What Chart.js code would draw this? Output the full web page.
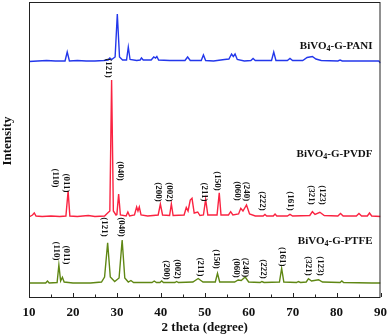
<!DOCTYPE html>
<html>
<head>
<meta charset="utf-8">
<script src="https://cdn.jsdelivr.net/npm/chart.js@4.4.0/dist/chart.umd.min.js"></script>
<style>
  html, body { margin: 0; padding: 0; background: #fff; }
  #wrap { width: 387px; height: 335px; }
</style>
</head>
<body>
<div id="wrap"><canvas id="xrdChart"></canvas></div>
<script>
// 2 theta (degree) / intensity (a.u., traces already offset)
const panTheta = [10, 12, 14, 16, 18.2, 18.7, 19.2, 21, 23, 25, 27, 28.0, 28.4, 28.8, 29.6, 30.1, 30.6, 31.3, 32.2, 32.6, 33.0, 34.5, 35.3, 35.6, 36.0, 37.8, 38.4, 38.8, 39.1, 39.5, 42, 45.5, 46.1, 46.7, 49.2, 49.7, 50.2, 52, 54.5, 55.5, 56.1, 56.5, 56.9, 57.4, 59, 60.5, 61.0, 61.5, 65.2, 65.7, 66.2, 68.8, 69.4, 70.0, 72.3, 73.3, 74.5, 75.3, 76.5, 80.3, 80.8, 81.3, 85, 89.6, 90];
const panInt = [235.5, 236, 236.5, 236, 236, 245, 236, 236.5, 236, 236, 236.5, 237, 239, 237.5, 240, 283, 240, 237, 237, 250, 237.5, 236.5, 237, 239, 237, 237, 240, 239, 240.5, 237, 236.5, 236.5, 240, 236.5, 236.5, 242, 236.5, 236, 237.5, 238, 243, 240.5, 243, 237.5, 236, 236.5, 238.5, 236.5, 236.5, 245, 236.5, 236.5, 238.5, 236.5, 236.5, 239.5, 240.5, 238, 236.5, 236, 237, 236, 236, 236, 234];

const pvdfTheta = [10, 10.8, 11.2, 11.6, 13, 15, 17, 18.4, 18.9, 19.3, 21, 23.5, 25, 27.2, 27.9, 28.4, 28.8, 29.2, 29.8, 30.0, 30.4, 30.8, 32.1, 32.5, 32.9, 34.0, 34.5, 34.8, 35.1, 35.5, 37, 39.4, 39.9, 40.4, 42.0, 42.4, 42.8, 45.3, 45.8, 46.2, 46.7, 47.1, 47.6, 48.4, 48.9, 49.7, 50.2, 50.7, 52.8, 53.3, 53.7, 55.4, 55.9, 56.4, 57.7, 58.2, 58.7, 59.5, 60.2, 61.5, 63.3, 63.7, 64.1, 65.6, 66.0, 66.4, 68.8, 69.4, 70.0, 73.9, 74.5, 75.1, 76.2, 77.2, 80.3, 80.9, 81.5, 84.5, 85.1, 85.7, 87.0, 87.5, 88, 90];
const pvdfInt = [80, 82, 84, 81, 80.5, 81, 80.5, 81, 106, 81, 80.5, 81.5, 80.5, 81, 84, 86, 217, 86, 82, 82.5, 103, 82, 81, 85, 81, 82, 90, 86, 90, 82, 81, 82, 93, 82, 81.5, 93, 81.5, 82, 89.5, 86, 97, 98.7, 84, 85, 81.5, 82, 97.7, 82, 82, 104.3, 82, 82, 85.3, 82, 83, 88.7, 86, 92, 83, 81, 81, 82.5, 81, 81, 83, 81, 81, 82.7, 81, 81.5, 85.3, 82.5, 84.7, 81.5, 81, 83.5, 81, 81, 83.5, 81, 81, 84, 81, 80.5];

const ptfeTheta = [10, 12, 13.8, 14.2, 14.6, 16.4, 16.8, 17.2, 17.6, 18.0, 20, 24, 26.5, 27.2, 27.9, 28.5, 29.5, 30.5, 31.2, 31.8, 32.6, 33.2, 33.8, 38, 38.5, 39, 39.8, 40.2, 40.6, 43.2, 43.6, 44, 47.3, 48.5, 49.6, 52.4, 52.9, 53.4, 56.8, 57.6, 58.3, 59.2, 60, 62.6, 63.0, 63.5, 67.0, 67.5, 68.0, 70.9, 71.3, 71.8, 73.1, 73.6, 74.3, 75.9, 76.8, 80.8, 81.2, 81.6, 88, 90];
const ptfeInt = [14, 14, 14, 16, 14, 14.5, 32, 16, 19.7, 15, 14, 14, 15, 20, 54.3, 20, 15.5, 19, 57, 19, 15, 16.5, 14.5, 14.5, 16, 14.5, 14.5, 16, 14.5, 14.5, 15.5, 14.5, 15, 18.5, 15, 15, 23.7, 15, 15, 17, 16.5, 20, 15, 14.5, 15.5, 14.5, 15, 28.7, 15, 14.5, 15.5, 14.5, 15, 18.3, 16, 17.3, 15, 14.5, 16, 14.5, 14, 14];

// hkl labels: name, 2 theta, height of label centre
const hklNames = ['(110)', '(011)', '(121)', '(040)', '(200)', '(002)', '(211)', '(150)', '(060)', '(240)', '(222)', '(161)', '(321)', '(123)'];
const pvdfHklTheta = [15.9, 18.4, 28.0, 30.7, 39.4, 42.0, 50.0, 52.9, 57.4, 59.4, 63.0, 69.4, 74.2, 76.8];
const pvdfHklY = [119, 114, 229, 126, 105, 105, 105, 116, 106, 105.5, 96, 96, 102, 102];
const ptfeHklTheta = [16.2, 18.5, 27.1, 31.0, 41.3, 43.8, 49.1, 52.7, 57.2, 59.3, 63.3, 67.6, 73.6, 76.2];
const ptfeHklY = [46, 42, 70, 70, 27, 28, 30, 38, 29, 29.5, 28, 40.3, 31, 31];

const sampleNames = ['G-PANI', 'G-PVDF', 'G-PTFE'];
const sampleLabelY = [252, 144, 57];

const zip = (xs, ys) => xs.map((x, i) => ({ x: x, y: ys[i] }));

const serif = '"Liberation Serif", "Times New Roman", serif';

const decor = {
  id: 'decor',
  afterDraw(chart) {
    const c = chart.ctx;
    const a = chart.chartArea;
    const xs = chart.scales.x;
    const ys = chart.scales.y;
    c.save();
    // frame
    c.strokeStyle = '#222';
    c.lineWidth = 1;
    c.strokeRect(a.left + 0.5, a.top + 0.5, a.right - a.left - 1, a.bottom - a.top);

    // inward ticks on the bottom axis
    c.beginPath();
    for (let t = 10; t <= 90; t += 5) {
      const px = Math.round(xs.getPixelForValue(t)) + 0.5;
      const len = t % 10 === 0 ? 4 : 2.5;
      c.moveTo(px, a.bottom);
      c.lineTo(px, a.bottom - len);
    }
    c.stroke();

    // hkl labels
    c.fillStyle = '#111';
    c.font = 'bold 9px ' + serif;
    c.textAlign = 'center';
    c.textBaseline = 'middle';
    const drawHkl = (thetas, heights) => {
      thetas.forEach((t, i) => {
        c.save();
        c.translate(xs.getPixelForValue(t), ys.getPixelForValue(heights[i]));
        c.rotate(Math.PI / 2);
        c.fillText(hklNames[i], 0, 0);
        c.restore();
      });
    };
    drawHkl(pvdfHklTheta, pvdfHklY);
    drawHkl(ptfeHklTheta, ptfeHklY);

    // sample labels, right aligned with subscript 4
    const rx = a.right - 8;
    sampleNames.forEach((n, i) => {
      const y = ys.getPixelForValue(sampleLabelY[i]);
      c.textAlign = 'left';
      c.textBaseline = 'alphabetic';
      c.font = 'bold 11px ' + serif;
      const w1 = c.measureText('BiVO').width;
      const w3 = c.measureText('-' + n).width;
      c.font = 'bold 8px ' + serif;
      const w2 = c.measureText('4').width;
      let x = rx - w1 - w2 - w3;
      c.font = 'bold 11px ' + serif;
      c.fillText('BiVO', x, y + 4);
      x += w1;
      c.font = 'bold 8px ' + serif;
      c.fillText('4', x, y + 6);
      x += w2;
      c.font = 'bold 11px ' + serif;
      c.fillText('-' + n, x, y + 4);
    });

    // y axis title
    c.font = 'bold 13px ' + serif;
    c.textAlign = 'center';
    c.textBaseline = 'middle';
    c.translate(8, 141);
    c.rotate(-Math.PI / 2);
    c.fillText('Intensity', 0, 0);
    c.restore();
  }
};

const ctx = document.getElementById('xrdChart');

new Chart(ctx, {
  type: 'line',
  data: {
    datasets: [
      { label: 'BiVO4-G-PANI', data: zip(panTheta, panInt), borderColor: 'rgb(35, 55, 235)' },
      { label: 'BiVO4-G-PVDF', data: zip(pvdfTheta, pvdfInt), borderColor: 'rgb(250, 35, 65)' },
      { label: 'BiVO4-G-PTFE', data: zip(ptfeTheta, ptfeInt), borderColor: 'rgb(95, 135, 20)' }
    ]
  },
  options: {
    responsive: true,
    maintainAspectRatio: false,
    animation: false,
    layout: { padding: { left: 29, right: 6, top: 2, bottom: 0 } },
    elements: {
      line: { borderWidth: 1.4, tension: 0 },
      point: { radius: 0 }
    },
    plugins: {
      legend: { display: false },
      tooltip: { enabled: false }
    },
    scales: {
      x: {
        type: 'linear',
        min: 10,
        max: 90,
        grid: { display: false },
        border: { display: false },
        ticks: {
          stepSize: 10,
          padding: 0,
          color: '#111',
          maxRotation: 0,
          font: { family: serif, size: 13, weight: 'bold' }
        },
        title: {
          display: true,
          text: '2 theta (degree)',
          color: '#111',
          padding: { top: 0, bottom: 0 },
          font: { family: serif, size: 13, weight: 'bold' }
        },
        afterFit(scale) { scale.height = 38; }
      },
      y: {
        display: false,
        min: 0,
        max: 295
      }
    }
  },
  plugins: [decor]
});
</script>
</body>
</html>
